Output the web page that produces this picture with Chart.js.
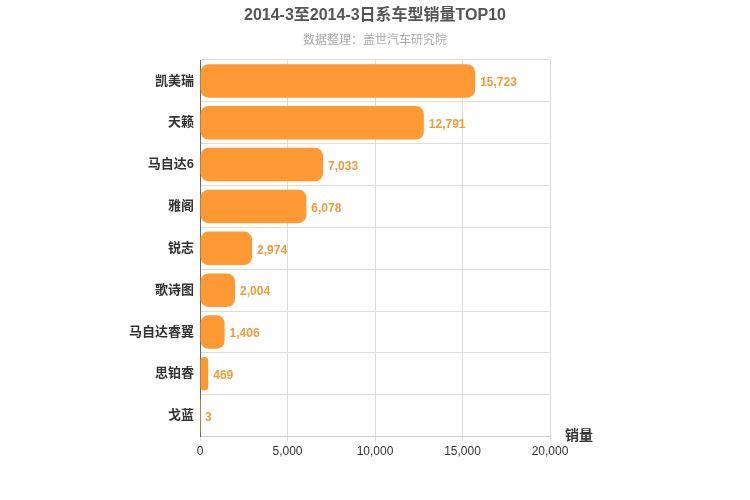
<!DOCTYPE html>
<html><head><meta charset="utf-8">
<script src="https://cdn.jsdelivr.net/npm/chart.js@4"></script>
<style>body{margin:0;background:#fff}#w{width:750px;height:500px}</style>
</head><body><div id="w"><canvas id="c"></canvas></div>
<script>
const categories=["凯美瑞","天籁","马自达6","雅阁","锐志","歌诗图","马自达睿翼","思铂睿","戈蓝"];
const sales=[15723,12791,7033,6078,2974,2004,1406,469,3];
const xTicks=[0,5000,10000,15000,20000];
const F="'Helvetica Neue',Arial,'Noto Sans CJK SC',sans-serif";
const labels={id:'lbl',afterDatasetsDraw(ch){const c=ch.ctx;const m=ch.getDatasetMeta(0);c.save();c.font="bold 12px "+F;c.fillStyle="#f29b38";c.textBaseline="middle";
m.data.forEach((b,i)=>{c.fillText(sales[i].toLocaleString('en-US'),b.x+5,b.y+2);});
c.fillStyle="#333";c.font="bold 14px "+F;c.textAlign="left";c.fillText("销量",ch.chartArea.right+15,ch.chartArea.bottom);
c.textAlign="center";c.fillStyle="#555";c.font="bold 16px "+F;c.fillText("2014-3至2014-3日系车型销量TOP10",375,16);
c.fillStyle="#aaa";c.font="12px "+F;c.fillText("数据整理：盖世汽车研究院",375,41);c.restore();}};
new Chart(document.getElementById('c'),{type:'bar',data:{labels:categories,datasets:[{data:sales,backgroundColor:'#ff9933',borderRadius:8,borderSkipped:false,barPercentage:0.8,categoryPercentage:1}]},
options:{indexAxis:'y',responsive:true,maintainAspectRatio:false,animation:false,
layout:{padding:{left:123,right:200,top:60,bottom:38}},
plugins:{legend:{display:false},tooltip:{enabled:false}},
scales:{x:{min:0,max:20000,afterBuildTicks(a){a.ticks=xTicks.map(v=>({value:v}));},ticks:{color:'#333',font:{family:F,size:12},callback:v=>v.toLocaleString('en-US')},grid:{color:'#ddd',drawTicks:true,tickLength:5},border:{color:'#ccc'}},
y:{ticks:{color:'#333',font:{family:F,size:13,weight:'bold'},padding:6},grid:{color:'#ddd',offset:true,tickLength:0},border:{color:'#666'}}}},
plugins:[labels]});
</script></body></html>
